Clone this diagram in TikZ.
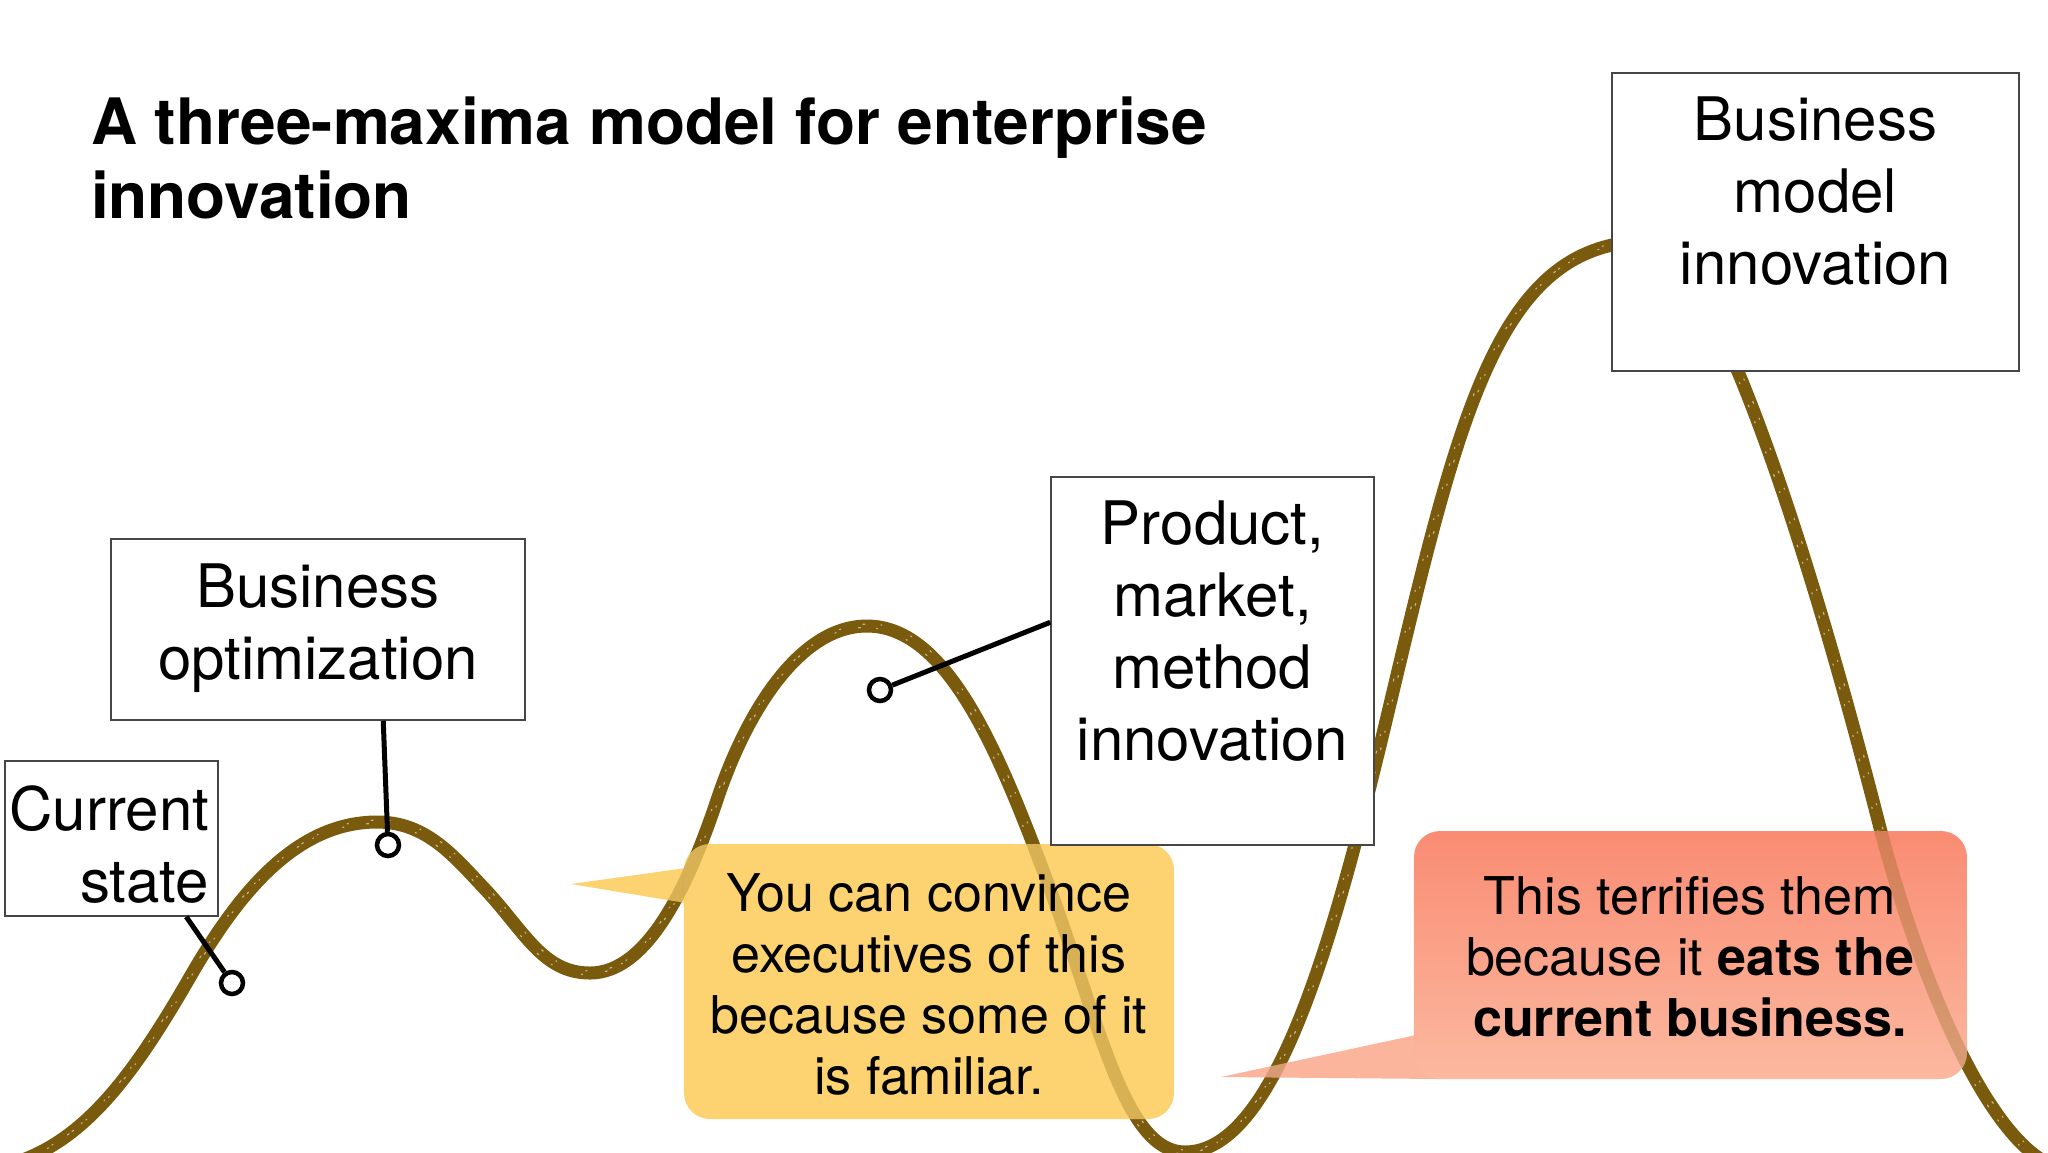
\documentclass[tikz,border=0pt]{standalone}
\usepackage{fontspec}
\setmainfont{TeX Gyre Heros}
\definecolor{chalk}{RGB}{122,90,12}
\definecolor{calloutY}{RGB}{252,211,112}
\definecolor{calloutRtop}{RGB}{249,140,115}
\definecolor{calloutRbot}{RGB}{251,185,160}
\definecolor{boxline}{RGB}{70,70,70}
\tikzset{
  labelbox/.style={draw=boxline, line width=0.15pt, fill=white, inner sep=0pt},
  boxtext/.style={inner sep=0pt, align=center, font=\fontsize{6}{7.2}\selectfont},
  callouttext/.style={inner sep=0pt, align=center, font=\fontsize{5.2}{6.1}\selectfont},
  pinline/.style={black, line width=0.5pt},
  pindot/.style={circle, draw=black, line width=0.45pt, fill=white, minimum size=2.2pt, inner sep=0pt},
  chalkline/.style={draw=chalk, line width=1.3pt, line cap=round, line join=round},
  chalkghost/.style={draw=chalk, line width=1.3pt, line cap=round, line join=round, opacity=0.28},
  speck/.style={draw=white, line width=0.12pt, line cap=round, opacity=0.55, dash pattern=on 0.12pt off 2.3pt on 0.2pt off 1.6pt on 0.1pt off 3.1pt},
}
\newcommand\chalkcurve[1]{\path[#1] (-20,1170) .. controls (70,1160) and (125,1090) .. (190,977)
 .. controls (235,899) and (293,822) .. (377,822)
 .. controls (425,822) and (452,854) .. (483,887)
 .. controls (524,930) and (542,973) .. (590,973)
 .. controls (647,973) and (688,887) .. (717,800)
 .. controls (746,713) and (799,626) .. (867,626)
 .. controls (949,626) and (1001,757) .. (1050,889)
 .. controls (1099,1021) and (1124,1152) .. (1185,1152)
 .. controls (1278,1152) and (1337,927) .. (1391,700)
 .. controls (1461,406) and (1500,241) .. (1650,241)
 .. controls (1700,241) and (1788,469) .. (1878,820)
 .. controls (1918,976) and (1990,1150) .. (2060,1168);}
\begin{document}
\begin{tikzpicture}[x=0.1pt, y=-0.1pt]
\fill[white] (0,0) rectangle (2048,1152);
\useasboundingbox (0,0) rectangle (2048,1152);

% the chalk curve
\chalkcurve{chalkline}
\begin{scope}[xshift=0.2pt, yshift=0.2pt]\chalkcurve{speck}\end{scope}
\begin{scope}[xshift=-0.25pt, yshift=-0.15pt]\chalkcurve{speck}\end{scope}

% yellow callout
\fill[calloutY] (571,884) -- (686,868) -- (686,903) -- cycle;
\fill[calloutY, rounded corners=2.6pt] (684,844) rectangle (1174,1119);
\begin{scope}
\clip[rounded corners=2.6pt] (684,844) rectangle (1174,1119);
\chalkcurve{chalkghost}
\end{scope}
\begin{scope}
\clip (571,884) -- (684,868) -- (684,903) -- cycle;
\chalkcurve{chalkghost}
\end{scope}
\node[callouttext, anchor=north] (yt) at (929,872) {You can convince\\executives of this\\because some of it\\is familiar.};

% red callout
\fill[calloutRbot!92!calloutRtop] (1221,1077) -- (1416,1035) -- (1440,1079) -- cycle;
\shade[top color=calloutRtop, bottom color=calloutRbot, rounded corners=2.6pt] (1414,831) rectangle (1967,1079);
\begin{scope}
\clip[rounded corners=2.6pt] (1414,831) rectangle (1967,1079);
\chalkcurve{chalkghost}
\end{scope}
\begin{scope}
\clip (1221,1077) -- (1414,1035) -- (1414,1079) -- cycle;
\chalkcurve{chalkghost}
\end{scope}
\node[callouttext, anchor=north] (rt) at (1690,874) {This terrifies them\\because it \textbf{eats the}\\\textbf{current business.}};

% title
\node[anchor=north west, inner sep=0pt, align=left, font=\fontsize{6.4}{7.4}\selectfont\bfseries] (title) at (89,95) {A three-maxima model for enterprise\\innovation};

% boxes
\node[labelbox, minimum width=21.3pt, minimum height=15.5pt] (cs) at (111.5,838.5) {};
\node[boxtext, align=right, anchor=north east] (cst) at (211,784) {Current\\state};
\node[labelbox, minimum width=41.4pt, minimum height=18.1pt] (bo) at (318,629.5) {};
\node[boxtext, anchor=north] (bot) at (318,562) {Business\\optimization};
\node[labelbox, minimum width=32.3pt, minimum height=36.8pt] (pm) at (1212.5,661) {};
\node[boxtext, anchor=north] (pmt) at (1212.5,499) {Product,\\market,\\method\\innovation};
\node[labelbox, minimum width=40.7pt, minimum height=29.8pt] (bmi) at (1815.5,222) {};
\node[boxtext, anchor=north] (bmit) at (1815.5,95) {Business\\model\\innovation};

% pins
\node[pindot] (p1) at (232,983) {};
\node[pindot] (p2) at (388,845) {};
\node[pindot] (p3) at (880,690) {};
\draw[pinline] ([xshift=18.2pt]cs.south west) -- (p1);
\draw[pinline] ([xshift=27.3pt]bo.south west) -- (p2);
\draw[pinline] ([yshift=-14.6pt]pm.north west) -- (p3);
\end{tikzpicture}
\end{document}
